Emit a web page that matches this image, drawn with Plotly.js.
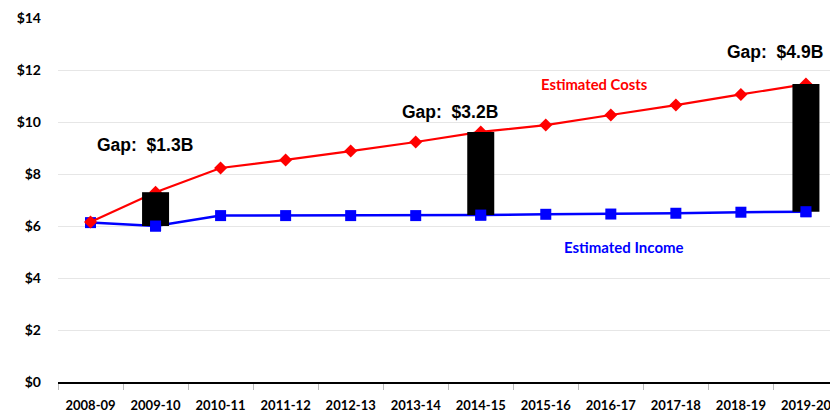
<!DOCTYPE html>
<html><head><meta charset="utf-8">
<script src="https://cdn.plot.ly/plotly-3.0.1.min.js"></script>
<style>html,body{margin:0;padding:0;overflow:hidden;background:#fff}</style>
</head><body><div id="chart" style="width:830px;height:413px"></div>
<script>
const years = ["2008-09","2009-10","2010-11","2011-12","2012-13","2013-14","2014-15","2015-16","2016-17","2017-18","2018-19","2019-20"];
const costs = [6.15,7.3,8.23,8.54,8.88,9.23,9.62,9.88,10.27,10.65,11.06,11.46];
const income = [6.13,6.0,6.4,6.4,6.4,6.4,6.42,6.45,6.46,6.49,6.53,6.55];
const gapYears = ["2009-10","2014-15","2019-20"];
const gapLabels = ["Gap:  $1.3B","Gap:  $3.2B","Gap:  $4.9B"];

const gapIdx = gapYears.map(y => years.indexOf(y));
const gapBase = gapIdx.map(i => income[i]);
const gapTop = gapIdx.map(i => costs[i]);

// gap columns drawn as thick vertical segments so they sit above the lines
const segX = [], segY = [];
gapYears.forEach((y, k) => { segX.push(y, y, null); segY.push(gapBase[k], gapTop[k], null); });

const traces = [
  {x: years, y: income, type: 'scatter', mode: 'lines+markers', name: 'Estimated Income',
   line: {color: '#0000ff', width: 2.5}, marker: {symbol: 'square', size: 11, color: '#0000ff'}},
  {x: years, y: costs, type: 'scatter', mode: 'lines+markers', name: 'Estimated Costs',
   line: {color: '#ff0000', width: 2.2}, marker: {symbol: 'diamond', size: 10, color: '#ff0000'}},
  {x: segX, y: segY, type: 'scatter', mode: 'lines', connectgaps: false,
   line: {color: '#000000', width: 27}},
  {x: gapYears, y: gapBase, type: 'scatter', mode: 'markers',
   marker: {symbol: 'square', size: 11, color: '#0000ff'}}
];

const gapAnn = [
  {x: 0.83, y: 9.1},
  {x: 5.52, y: 10.4},
  {x: 10.52, y: 12.7}
];
const annotations = gapLabels.map((t, k) => ({
  x: gapAnn[k].x, y: gapAnn[k].y, xref: 'x', yref: 'y', text: '<b>' + t + '</b>', showarrow: false,
  font: {family: 'Liberation Sans, Arial', size: 17.5, color: '#000'}
}));
annotations.push({x: 7.75, y: 11.45, xref: 'x', yref: 'y', text: '<b>Estimated Costs</b>', showarrow: false,
  font: {family: 'Lato, sans-serif', size: 14.8, color: '#ff0000'}});
annotations.push({x: 8.2, y: 5.2, xref: 'x', yref: 'y', text: '<b>Estimated Income</b>', showarrow: false,
  font: {family: 'Lato, sans-serif', size: 15, color: '#0000ff'}});

const layout = {
  width: 830, height: 413,
  margin: {l: 58, r: 0, t: 18, b: 31, pad: 0},
  showlegend: false,
  paper_bgcolor: '#fff', plot_bgcolor: '#fff',
  xaxis: {type: 'category', categoryarray: years, categoryorder: 'array', range: [-0.5, 11.37],
    showgrid: false, zeroline: false, automargin: false,
    showline: true, linecolor: '#000', linewidth: 1.5,
    ticks: 'outside', tickson: 'boundaries', ticklen: 6, tickcolor: '#bbb', ticklabelstandoff: 11,
    tickfont: {family: 'Lato, sans-serif', size: 13, color: '#000', weight: 'bold'}},
  yaxis: {range: [0, 14], dtick: 2, tickprefix: '$', showgrid: true, gridcolor: '#e6e6e6', gridwidth: 1,
    zeroline: false, showline: false, ticks: '', ticklabelstandoff: 16, automargin: false,
    tickfont: {family: 'Lato, sans-serif', size: 14, color: '#000', weight: 'bold'}},
  annotations: annotations
};

Plotly.newPlot('chart', traces, layout, {displayModeBar: false, staticPlot: true});
</script></body></html>
